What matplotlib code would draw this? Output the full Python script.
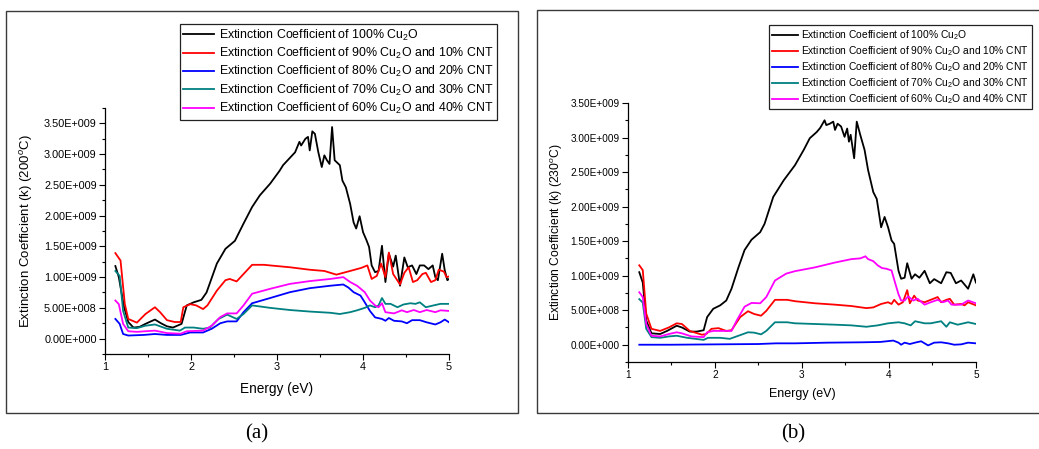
import numpy as np
import matplotlib
matplotlib.use('Agg')
import matplotlib.pyplot as plt
from matplotlib.patches import Rectangle
from matplotlib.ticker import MultipleLocator, FuncFormatter

plt.rcParams['font.family'] = ['Liberation Sans', 'DejaVu Sans']
plt.rcParams['mathtext.fontset'] = 'custom'
plt.rcParams['mathtext.rm'] = 'Liberation Sans'
plt.rcParams['mathtext.it'] = 'Liberation Sans:italic'

# ---- data, panel (a) 200 C, values in units of 1E+009 ----
a_x_100 = [1.12, 1.16, 1.22, 1.27, 1.33, 1.40, 1.47, 1.58, 1.65, 1.72, 1.79, 1.89, 1.95, 2.03,
           2.12, 2.18, 2.30, 2.40, 2.51, 2.61, 2.71, 2.80, 2.92, 3.03, 3.07, 3.21, 3.26, 3.28,
           3.33, 3.36, 3.38, 3.41, 3.44, 3.48, 3.52, 3.55, 3.58, 3.61, 3.64, 3.67, 3.73, 3.76,
           3.80, 3.85, 3.89, 3.92, 3.96, 4.00, 4.04, 4.07, 4.10, 4.14, 4.18, 4.22, 4.26, 4.30,
           4.35, 4.38, 4.43, 4.48, 4.52, 4.57, 4.62, 4.66, 4.71, 4.76, 4.81, 4.84, 4.87, 4.92,
           4.95, 4.98, 5.00]
a_k_100 = [1.18, 1.00, 0.52, 0.27, 0.18, 0.19, 0.24, 0.31, 0.25, 0.20, 0.18, 0.24, 0.54, 0.59,
           0.63, 0.75, 1.22, 1.46, 1.59, 1.87, 2.14, 2.33, 2.52, 2.73, 2.82, 3.03, 3.20, 3.14,
           3.25, 3.28, 3.06, 3.37, 3.33, 3.03, 2.79, 2.98, 2.90, 2.84, 3.44, 2.90, 2.82, 2.57,
           2.46, 2.19, 1.89, 1.79, 1.99, 1.73, 1.60, 1.49, 1.19, 1.08, 1.10, 1.51, 0.92, 1.38,
           1.17, 1.35, 0.86, 1.32, 1.16, 1.19, 1.05, 1.19, 1.19, 1.13, 1.19, 1.00, 0.95, 1.38,
           1.11, 0.95, 0.97]

a_x_90 = [1.12, 1.18, 1.23, 1.27, 1.37, 1.47, 1.58, 1.64, 1.72, 1.81, 1.88, 1.91, 1.99, 2.06,
          2.14, 2.19, 2.30, 2.40, 2.45, 2.53, 2.61, 2.71, 2.85, 2.92, 3.15, 3.38, 3.55, 3.69,
          3.85, 3.98, 4.05, 4.10, 4.16, 4.21, 4.26, 4.30, 4.35, 4.43, 4.48, 4.53, 4.58, 4.63,
          4.69, 4.73, 4.79, 4.84, 4.88, 4.94, 4.97, 5.00]
a_k_90 = [1.39, 1.27, 0.56, 0.32, 0.26, 0.40, 0.51, 0.43, 0.30, 0.27, 0.27, 0.51, 0.56, 0.54,
          0.48, 0.54, 0.78, 0.95, 0.97, 0.93, 1.05, 1.20, 1.20, 1.19, 1.16, 1.12, 1.10, 1.04,
          1.10, 1.15, 1.19, 0.97, 1.02, 1.22, 1.00, 1.40, 1.05, 0.88, 1.07, 1.16, 0.92, 0.95,
          1.05, 1.07, 0.92, 0.95, 1.12, 1.09, 1.00, 1.01]

a_x_80 = [1.12, 1.17, 1.21, 1.27, 1.45, 1.58, 1.72, 1.88, 1.99, 2.14, 2.24, 2.34, 2.42, 2.53,
          2.61, 2.71, 2.92, 3.15, 3.38, 3.62, 3.77, 3.83, 3.89, 3.97, 4.02, 4.08, 4.14, 4.22,
          4.26, 4.30, 4.36, 4.45, 4.51, 4.57, 4.66, 4.74, 4.84, 4.90, 4.95, 5.00]
a_k_80 = [0.32, 0.24, 0.075, 0.05, 0.06, 0.075, 0.06, 0.06, 0.10, 0.10, 0.16, 0.25, 0.28, 0.28,
          0.43, 0.575, 0.66, 0.755, 0.82, 0.86, 0.88, 0.83, 0.755, 0.70, 0.59, 0.45, 0.345, 0.32,
          0.29, 0.335, 0.29, 0.28, 0.25, 0.30, 0.30, 0.265, 0.23, 0.265, 0.31, 0.265]

a_x_70 = [1.12, 1.17, 1.21, 1.27, 1.37, 1.47, 1.58, 1.72, 1.87, 1.93, 2.03, 2.14, 2.22, 2.32,
          2.42, 2.53, 2.61, 2.71, 2.92, 3.15, 3.38, 3.62, 3.73, 3.85, 3.93, 4.02, 4.08, 4.14,
          4.18, 4.22, 4.26, 4.32, 4.40, 4.47, 4.55, 4.61, 4.66, 4.73, 4.82, 4.90, 5.00]
a_k_70 = [1.10, 1.02, 0.45, 0.18, 0.17, 0.21, 0.23, 0.16, 0.13, 0.18, 0.18, 0.16, 0.18, 0.32,
          0.39, 0.32, 0.40, 0.54, 0.50, 0.465, 0.44, 0.42, 0.40, 0.43, 0.46, 0.50, 0.54, 0.51,
          0.54, 0.66, 0.565, 0.565, 0.51, 0.555, 0.575, 0.565, 0.59, 0.51, 0.54, 0.565, 0.565]

a_x_60 = [1.12, 1.16, 1.21, 1.27, 1.37, 1.47, 1.58, 1.72, 1.88, 1.95, 2.14, 2.24, 2.34, 2.42,
          2.53, 2.61, 2.71, 2.92, 3.15, 3.38, 3.62, 3.77, 3.85, 3.93, 4.02, 4.08, 4.14, 4.18,
          4.22, 4.26, 4.36, 4.45, 4.51, 4.59, 4.66, 4.74, 4.84, 4.90, 5.00]
a_k_60 = [0.62, 0.56, 0.24, 0.12, 0.11, 0.12, 0.13, 0.09, 0.08, 0.12, 0.13, 0.21, 0.35, 0.41,
          0.41, 0.54, 0.73, 0.81, 0.89, 0.935, 0.97, 1.00, 0.92, 0.86, 0.755, 0.62, 0.54, 0.51,
          0.575, 0.43, 0.41, 0.46, 0.43, 0.465, 0.43, 0.465, 0.43, 0.46, 0.45]

# ---- data, panel (b) 230 C ----
b_x_100 = [1.13, 1.17, 1.21, 1.27, 1.37, 1.45, 1.56, 1.62, 1.71, 1.79, 1.87, 1.91, 1.98, 2.06,
           2.13, 2.19, 2.27, 2.34, 2.42, 2.52, 2.57, 2.67, 2.79, 2.92, 3.02, 3.09, 3.17, 3.21,
           3.26, 3.28, 3.32, 3.36, 3.38, 3.41, 3.45, 3.49, 3.52, 3.54, 3.56, 3.60, 3.63, 3.67,
           3.72, 3.76, 3.82, 3.86, 3.91, 3.95, 3.99, 4.03, 4.06, 4.11, 4.14, 4.18, 4.21, 4.26,
           4.30, 4.35, 4.41, 4.47, 4.52, 4.60, 4.66, 4.71, 4.77, 4.83, 4.91, 4.97, 5.00]
b_k_100 = [1.05, 0.90, 0.35, 0.165, 0.155, 0.20, 0.275, 0.25, 0.19, 0.19, 0.21, 0.40, 0.52, 0.57,
           0.64, 0.81, 1.12, 1.37, 1.52, 1.63, 1.75, 2.14, 2.38, 2.60, 2.82, 2.99, 3.08, 3.14,
           3.25, 3.18, 3.20, 3.23, 3.11, 3.20, 3.16, 3.01, 3.13, 2.94, 3.04, 2.70, 3.23, 3.04,
           2.82, 2.53, 2.21, 2.11, 1.70, 1.85, 1.70, 1.51, 1.46, 1.07, 0.955, 0.97, 1.18, 0.955,
           1.02, 0.97, 1.07, 0.89, 0.95, 0.89, 1.05, 1.04, 0.89, 0.93, 0.81, 1.02, 0.90]

b_x_90 = [1.13, 1.17, 1.21, 1.27, 1.37, 1.47, 1.56, 1.62, 1.71, 1.85, 1.90, 1.96, 2.04, 2.13,
          2.19, 2.29, 2.38, 2.45, 2.53, 2.59, 2.69, 2.83, 2.92, 3.15, 3.38, 3.57, 3.74, 3.82,
          3.91, 3.99, 4.03, 4.06, 4.11, 4.16, 4.21, 4.24, 4.29, 4.33, 4.41, 4.48, 4.56, 4.60,
          4.66, 4.70, 4.75, 4.83, 4.87, 4.91, 5.00]
b_k_90 = [1.15, 1.08, 0.45, 0.23, 0.20, 0.25, 0.31, 0.30, 0.20, 0.145, 0.155, 0.23, 0.24, 0.20,
          0.21, 0.40, 0.485, 0.445, 0.42, 0.49, 0.65, 0.65, 0.63, 0.60, 0.58, 0.56, 0.53, 0.54,
          0.59, 0.615, 0.59, 0.65, 0.58, 0.615, 0.79, 0.60, 0.71, 0.64, 0.615, 0.65, 0.69, 0.615,
          0.65, 0.665, 0.58, 0.59, 0.57, 0.615, 0.57]

b_x_80 = [1.13, 1.50, 2.00, 2.50, 2.70, 2.92, 3.30, 3.69, 3.90, 4.05, 4.11, 4.14, 4.18, 4.24,
          4.30, 4.37, 4.45, 4.52, 4.60, 4.68, 4.75, 4.83, 4.91, 5.00]
b_k_80 = [0.0, 0.0, 0.005, 0.01, 0.02, 0.02, 0.03, 0.035, 0.04, 0.06, 0.03, 0.0, 0.03, 0.01,
          0.03, 0.05, -0.01, 0.03, 0.035, 0.02, 0.0, 0.005, 0.03, 0.02]

b_x_70 = [1.13, 1.17, 1.21, 1.27, 1.37, 1.47, 1.56, 1.68, 1.87, 1.92, 2.06, 2.17, 2.27, 2.38,
          2.45, 2.53, 2.59, 2.69, 2.83, 2.92, 3.15, 3.38, 3.57, 3.74, 3.87, 3.99, 4.11, 4.18,
          4.25, 4.30, 4.41, 4.48, 4.60, 4.66, 4.70, 4.79, 4.91, 5.00]
b_k_70 = [0.66, 0.61, 0.23, 0.11, 0.10, 0.12, 0.13, 0.10, 0.07, 0.10, 0.10, 0.085, 0.13, 0.18,
          0.175, 0.15, 0.20, 0.325, 0.325, 0.31, 0.30, 0.29, 0.28, 0.26, 0.28, 0.31, 0.325, 0.31,
          0.28, 0.34, 0.31, 0.31, 0.34, 0.26, 0.325, 0.29, 0.325, 0.30]

b_x_60 = [1.13, 1.17, 1.21, 1.27, 1.37, 1.47, 1.56, 1.62, 1.73, 1.87, 1.91, 1.98, 2.10, 2.19,
          2.25, 2.34, 2.42, 2.52, 2.59, 2.69, 2.82, 2.92, 3.15, 3.38, 3.57, 3.67, 3.73, 3.76,
          3.82, 3.87, 3.92, 3.97, 4.03, 4.07, 4.11, 4.14, 4.18, 4.22, 4.28, 4.33, 4.41, 4.48,
          4.56, 4.62, 4.68, 4.72, 4.83, 4.91, 5.00]
b_k_60 = [0.76, 0.69, 0.30, 0.13, 0.12, 0.155, 0.18, 0.165, 0.12, 0.11, 0.18, 0.20, 0.20, 0.20,
          0.35, 0.55, 0.605, 0.60, 0.69, 0.93, 1.03, 1.065, 1.12, 1.19, 1.24, 1.25, 1.28, 1.24,
          1.21, 1.15, 1.11, 1.10, 1.075, 0.90, 0.73, 0.64, 0.64, 0.70, 0.64, 0.665, 0.58, 0.615,
          0.65, 0.615, 0.64, 0.58, 0.58, 0.64, 0.60]

labels = ['Extinction Coefficient of 100% Cu$_2$O',
          'Extinction Coefficient of 90% Cu$_2$O and 10% CNT',
          'Extinction Coefficient of 80% Cu$_2$O and 20% CNT',
          'Extinction Coefficient of 70% Cu$_2$O and 30% CNT',
          'Extinction Coefficient of 60% Cu$_2$O and 40% CNT']
colors = ['#000000', '#ff0000', '#0000ff', '#008080', '#ff00ff']


def sci_fmt(v, pos):
    if v == 0:
        return '0.00E+000'
    e = int(np.floor(np.log10(abs(v)) + 1e-9))
    return '%.2fE+%03d' % (v / 10 ** e, e)


def draw_panel(ax, series, ylim, ylabel, tick_fs, lab_fs):
    for (x, k), c, lab in zip(series, colors, labels):
        ax.plot(x, np.array(k) * 1e9, color=c, lw=1.3, label=lab)
    ax.set_xlim(1, 5)
    ax.set_ylim(*ylim)
    ax.set_yticks(np.arange(0, 3.51e9, 0.5e9))
    ax.yaxis.set_minor_locator(MultipleLocator(0.25e9))
    ax.xaxis.set_major_locator(MultipleLocator(1))
    ax.xaxis.set_minor_locator(MultipleLocator(0.5))
    ax.yaxis.set_major_formatter(FuncFormatter(sci_fmt))
    for s in ['top', 'right']:
        ax.spines[s].set_visible(False)
    for s in ['left', 'bottom']:
        ax.spines[s].set_linewidth(0.9)
    ax.tick_params(which='major', direction='out', length=4, width=0.8, labelsize=tick_fs, pad=2)
    ax.tick_params(which='minor', direction='out', length=2, width=0.8)
    ax.set_xlabel('Energy (eV)', fontsize=lab_fs)
    ax.set_ylabel(ylabel, fontsize=lab_fs - 0.3)


fig = plt.figure(figsize=(10.39, 4.49), dpi=100)

# panel frames
fig.add_artist(Rectangle((0.0058, 0.0802), 0.4928, 0.8953, transform=fig.transFigure,
                         fill=False, ec='#3a3a3a', lw=1.0))
fig.add_artist(Rectangle((0.5168, 0.0802), 0.49, 0.8976, transform=fig.transFigure,
                         fill=False, ec='#3a3a3a', lw=1.0))

ax1 = fig.add_axes([0.1011, 0.2116, 0.3311, 0.5479])
draw_panel(ax1, [(a_x_100, a_k_100), (a_x_90, a_k_90), (a_x_80, a_k_80),
                 (a_x_70, a_k_70), (a_x_60, a_k_60)],
           (-0.25e9, 3.75e9), 'Extinction Coefficient (k) (200$^{o}$C)', 7.8, 9.8)
ax1.xaxis.set_label_coords(0.5, -0.113)
ax1.yaxis.set_label_coords(-0.203, 0.5)
leg1 = ax1.legend(loc='upper right', bbox_to_anchor=(0.4783, 0.9465), bbox_transform=fig.transFigure,
                  fontsize=8.9, frameon=True, fancybox=False, edgecolor='#222222', framealpha=1,
                  handlelength=2.5, handletextpad=0.35, labelspacing=0.26, borderpad=0.3,
                  borderaxespad=0)
leg1.get_frame().set_linewidth(0.9)

ax2 = fig.add_axes([0.6044, 0.1938, 0.3349, 0.5768])
draw_panel(ax2, [(b_x_100, b_k_100), (b_x_90, b_k_90), (b_x_80, b_k_80),
                 (b_x_70, b_k_70), (b_x_60, b_k_60)],
           (-0.25e9, 3.5e9), 'Extinction Coefficient (k) (230$^{o}$C)', 7.2, 9.0)
ax2.xaxis.set_label_coords(0.5, -0.10)
ax2.yaxis.set_label_coords(-0.181, 0.5)
leg2 = ax2.legend(loc='upper right', bbox_to_anchor=(0.993, 0.944), bbox_transform=fig.transFigure,
                  fontsize=7.4, frameon=True, fancybox=False, edgecolor='#222222', framealpha=1,
                  handlelength=2.5, handletextpad=0.3, labelspacing=0.22, borderpad=0.3,
                  borderaxespad=0)
leg2.get_frame().set_linewidth(0.9)

fig.text(0.2474, 0.0334, '(a)', ha='center', va='center', fontsize=15, family='Liberation Serif')
fig.text(0.7632, 0.0334, '(b)', ha='center', va='center', fontsize=15, family='Liberation Serif')

fig.savefig('out.png', dpi=100)
